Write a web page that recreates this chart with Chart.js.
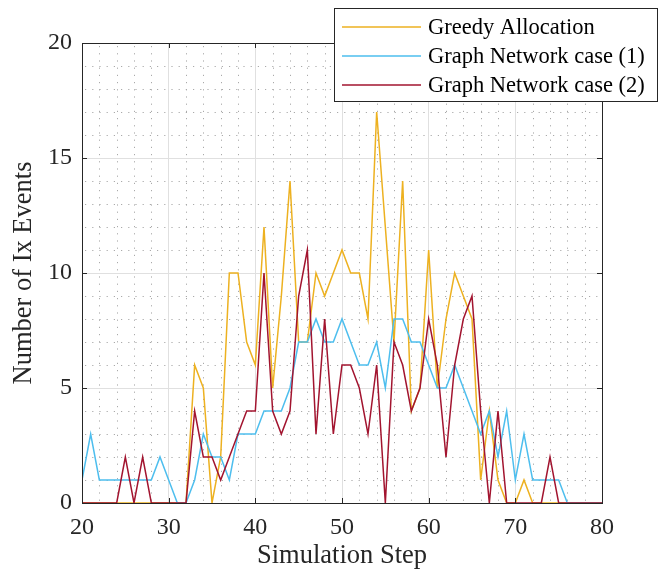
<!DOCTYPE html>
<html>
<head>
<meta charset="utf-8">
<script src="https://cdn.jsdelivr.net/npm/chart.js@4.4.1/dist/chart.umd.min.js"></script>
<style>
  html, body { margin: 0; padding: 0; background: #fff; }
  #wrap { width: 664px; height: 573px; }
</style>
</head>
<body>
<div id="wrap"><canvas id="ixChart" width="664" height="573"></canvas></div>
<script>
// simulation steps (x)
const steps = [20, 21, 22, 23, 24, 25, 26, 27, 28, 29, 30, 31, 32, 33, 34, 35, 36, 37, 38, 39, 40,
  41, 42, 43, 44, 45, 46, 47, 48, 49, 50, 51, 52, 53, 54, 55, 56, 57, 58, 59, 60,
  61, 62, 63, 64, 65, 66, 67, 68, 69, 70, 71, 72, 73, 74, 75, 76, 77, 78, 79, 80];

// number of Ix events per step
const greedy = [0, 0, 0, 0, 0, 0, 0, 0, 0, 0, 0, 0, 0, 6, 5, 0, 2, 10, 10, 7, 6,
  12, 5, 9, 14, 7, 7, 10, 9, 10, 11, 10, 10, 8, 17, 12, 7, 14, 4, 5, 11,
  5, 8, 10, 9, 8, 1, 4, 1, 0, 0, 1, 0, 0, 0, 0, 0, 0, 0, 0, 0];
const graphCase1 = [1, 3, 1, 1, 1, 1, 1, 1, 1, 2, 1, 0, 0, 1, 3, 2, 2, 1, 3, 3, 3,
  4, 4, 4, 5, 7, 7, 8, 7, 7, 8, 7, 6, 6, 7, 5, 8, 8, 7, 7, 6,
  5, 5, 6, 5, 4, 3, 4, 2, 4, 1, 3, 1, 1, 1, 1, 0, 0, 0, 0, 0];
const graphCase2 = [0, 0, 0, 0, 0, 2, 0, 2, 0, 0, 0, 0, 0, 4, 2, 2, 1, 2, 3, 4, 4,
  10, 4, 3, 4, 9, 11, 3, 8, 3, 6, 6, 5, 3, 6, 0, 7, 6, 4, 5, 8,
  6, 2, 6, 8, 9, 4, 0, 4, 0, 0, 0, 0, 0, 2, 0, 0, 0, 0, 0, 0];

const seriesNames = ["Greedy Allocation", "Graph Network case (1)", "Graph Network case (2)"];
const seriesColors = ["#EDB120", "#4DBEEE", "#A2142F"];
const xTicks = [20, 30, 40, 50, 60, 70, 80];
const yTicks = [0, 5, 10, 15, 20];

const FONT = "'Liberation Serif', 'Times New Roman', serif";
const AXIS = "#262626";

const toPoints = (vals) => vals.map((v, i) => ({ x: steps[i], y: v }));

// minor dotted grid, box and inward ticks
const boxPlugin = {
  id: "boxPlugin",
  beforeDatasetsDraw(chart) {
    const { ctx, chartArea: a, scales: { x, y } } = chart;
    ctx.save();
    ctx.strokeStyle = "#aaaaaa";
    ctx.lineWidth = 1;
    ctx.setLineDash([1.2, 6]);
    for (let v = 20; v <= 80; v += 2) {
      if (v % 10 === 0) continue;
      const px = Math.round(x.getPixelForValue(v)) + 0.5;
      ctx.beginPath(); ctx.moveTo(px, a.top + 3); ctx.lineTo(px, a.bottom); ctx.stroke();
    }
    for (let v = 0; v <= 20; v += 1) {
      if (v % 5 === 0) continue;
      const py = Math.round(y.getPixelForValue(v)) + 0.5;
      ctx.beginPath(); ctx.moveTo(a.left + 3, py); ctx.lineTo(a.right, py); ctx.stroke();
    }
    ctx.restore();
  },
  afterDatasetsDraw(chart) {
    const { ctx, chartArea: a, scales: { x, y } } = chart;
    ctx.save();
    ctx.strokeStyle = AXIS;
    ctx.lineWidth = 1;
    ctx.strokeRect(a.left + 0.5, a.top + 0.5, a.right - a.left, a.bottom - a.top);
    xTicks.forEach((t) => {
      const px = Math.round(x.getPixelForValue(t)) + 0.5;
      ctx.beginPath(); ctx.moveTo(px, a.bottom); ctx.lineTo(px, a.bottom - 5); ctx.stroke();
      ctx.beginPath(); ctx.moveTo(px, a.top); ctx.lineTo(px, a.top + 5); ctx.stroke();
    });
    yTicks.forEach((t) => {
      const py = Math.round(y.getPixelForValue(t)) + 0.5;
      ctx.beginPath(); ctx.moveTo(a.left, py); ctx.lineTo(a.left + 5, py); ctx.stroke();
      ctx.beginPath(); ctx.moveTo(a.right, py); ctx.lineTo(a.right - 5, py); ctx.stroke();
    });
    ctx.restore();
  },
  afterDraw(chart) {
    // legend box in the top right corner
    const { ctx } = chart;
    const bx = 334, by = 8, bw = 323, bh = 93;
    ctx.save();
    ctx.fillStyle = "#fff";
    ctx.fillRect(bx, by, bw, bh);
    ctx.strokeStyle = AXIS;
    ctx.lineWidth = 1;
    ctx.strokeRect(bx + 0.5, by + 0.5, bw, bh);
    ctx.font = "22.5px " + FONT;
    ctx.textBaseline = "middle";
    ctx.fillStyle = "#000";
    seriesNames.forEach((name, i) => {
      const ly = by + 19 + i * 29;
      ctx.strokeStyle = seriesColors[i];
      ctx.lineWidth = 1.5;
      ctx.beginPath(); ctx.moveTo(342, ly); ctx.lineTo(421, ly); ctx.stroke();
      ctx.fillText(name, 428, ly + 1);
    });
    ctx.restore();
  }
};

const makeSet = (i, vals, order) => ({
  label: seriesNames[i],
  data: toPoints(vals),
  borderColor: seriesColors[i],
  backgroundColor: seriesColors[i],
  borderWidth: 1.5,
  pointRadius: 0,
  tension: 0,
  order: order
});

new Chart(document.getElementById("ixChart"), {
  type: "line",
  data: {
    datasets: [
      makeSet(0, greedy, 3),
      makeSet(1, graphCase1, 2),
      makeSet(2, graphCase2, 1)
    ]
  },
  options: {
    responsive: false,
    animation: false,
    layout: { padding: { top: 43, right: 62, left: 0, bottom: 0 } },
    plugins: { legend: { display: false }, tooltip: { enabled: false } },
    scales: {
      x: {
        type: "linear",
        min: 20,
        max: 80,
        afterBuildTicks: (s) => { s.ticks = xTicks.map((v) => ({ value: v })); },
        afterFit: (s) => { s.height = 70; },
        ticks: { color: AXIS, font: { family: FONT, size: 24 }, padding: 10, maxRotation: 0 },
        grid: { color: "#e0e0e0", lineWidth: 1, drawTicks: false },
        border: { color: AXIS, width: 1 },
        title: {
          display: true,
          text: "Simulation Step",
          color: AXIS,
          font: { family: FONT, size: 26.5 },
          padding: { top: 0, bottom: 1 }
        }
      },
      y: {
        type: "linear",
        min: 0,
        max: 20,
        afterBuildTicks: (s) => { s.ticks = yTicks.map((v) => ({ value: v })); },
        afterFit: (s) => { s.width = 82; },
        ticks: { color: AXIS, font: { family: FONT, size: 24 }, padding: 10 },
        grid: { color: "#e0e0e0", lineWidth: 1, drawTicks: false },
        border: { color: AXIS, width: 1 },
        title: {
          display: true,
          text: "Number of Ix Events",
          color: AXIS,
          font: { family: FONT, size: 26.5 },
          padding: { top: 8, bottom: 0 }
        }
      }
    }
  },
  plugins: [boxPlugin]
});
</script>
</body>
</html>
